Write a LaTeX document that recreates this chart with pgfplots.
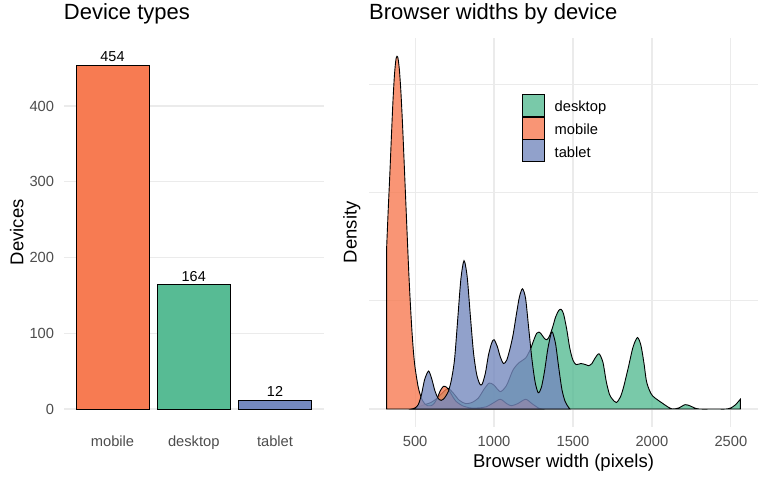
\documentclass[border=0pt]{standalone}
\usepackage{pgfplots}
\pgfplotsset{compat=1.18}
\usepackage{fontspec}
\setmainfont{Liberation Sans}
\definecolor{desk}{RGB}{87,187,148}
\definecolor{mob}{RGB}{247,123,82}
\definecolor{tab}{RGB}{117,137,190}
\definecolor{gridc}{RGB}{235,235,235}
\definecolor{tickc}{RGB}{77,77,77}
\begin{document}
\begin{tikzpicture}
\path[use as bounding box] (0,0) rectangle (768pt,480pt);
\pgfplotsset{
 myax/.style={
  scale only axis, anchor=south west,
  axis line style={draw=none},
  major tick length=0pt,
  tick label style={font=\fontsize{14.7}{17}\selectfont, text=tickc},
  /pgf/number format/assume math mode=true,
  /pgf/number format/1000 sep={},
  grid style={gridc, line width=1.2pt},
  title style={at={(axis description cs:0,1)}, anchor=base west, yshift=12pt, inner sep=0pt, font=\fontsize{22}{26}\selectfont},
  label style={font=\fontsize{18.5}{22}\selectfont},
 },
 bars/.style={ybar, bar width=0.9, bar shift=0pt, draw=black, line width=0.8pt,
  nodes near coords,
  every node near coord/.append style={anchor=base, yshift=3.5pt, inner sep=0pt, font=\fontsize{14.4}{17}\selectfont, text=black}},
 dens/.style={draw=black, line width=0.9pt, fill opacity=0.8, smooth, tension=0.45},
}
% ---------------- left panel ----------------
\begin{axis}[myax, at={(63.75pt,53.5pt)}, width=260pt, height=388.5pt,
 xmin=0.4, xmax=3.6, ymin=-23.1, ymax=489.8,
 xtick={1,2,3}, xticklabels={mobile,desktop,tablet},
 ytick={0,100,200,300,400},
 ymajorgrids,
 xticklabel style={anchor=base, yshift=-19.5pt, inner sep=0pt},
 yticklabel style={anchor=east, xshift=-9.5pt, inner sep=0pt},
 title={Device types},
 ylabel={Devices},
 ylabel style={at={([xshift=-40.45pt]axis description cs:0,0.5)}, anchor=base},
]
\addplot[bars, fill=mob] coordinates {(1,454)};
\addplot[bars, fill=desk] coordinates {(2,164)};
\addplot[bars, fill=tab] coordinates {(3,12)};
\end{axis}
% ---------------- right panel ----------------
\begin{axis}[myax, at={(369pt,53.5pt)}, width=389pt, height=388.5pt,
 xmin=208, xmax=2672, ymin=-0.1616, ymax=3.4257,
 xtick={500,1000,1500,2000,2500}, ytick={0,1,2,3}, yticklabels={},
 xmajorgrids, ymajorgrids,
 xticklabel style={anchor=base, yshift=-20pt, inner sep=0pt},
 title={Browser widths by device},
 xlabel={Browser width (pixels)},
 xlabel style={at={([yshift=-41pt]axis description cs:0.5,0)}, anchor=base},
 ylabel={Density},
 ylabel style={at={([xshift=-12.3pt]axis description cs:0,0.5)}, anchor=base},
 legend style={at={(rel axis cs:0.3933,0.857)}, anchor=north west, draw=none, fill=none,
   inner sep=0pt, row sep=0pt, column sep=9.7pt,
   font=\fontsize{14.7}{17}\selectfont, nodes={inner sep=0pt}},
 legend cell align=left,
 legend image code/.code={\draw[#1, draw=black, line width=0.8pt, sharp corners] (0pt,-9pt) rectangle (22pt,13pt);},
]
\addplot[dens, fill=desk] coordinates {
(480,0.00) (520,0.02) (560,0.04) (600,0.06) (640,0.10) (680,0.16) (710,0.19) (740,0.15)
(780,0.08) (820,0.05) (860,0.06) (900,0.10) (940,0.19) (970,0.24) (1000,0.22) (1040,0.16)
(1080,0.22) (1120,0.36) (1160,0.43) (1200,0.47) (1230,0.55) (1250,0.63) (1270,0.70) (1285,0.71)
(1300,0.69) (1320,0.65) (1335,0.64) (1350,0.67) (1370,0.75) (1390,0.85) (1410,0.91) (1425,0.92)
(1440,0.88) (1460,0.74) (1480,0.56) (1500,0.45) (1520,0.41) (1550,0.42) (1580,0.41) (1600,0.40)
(1620,0.42) (1640,0.47) (1665,0.51) (1690,0.43) (1710,0.26) (1730,0.14) (1750,0.09) (1775,0.06)
(1800,0.11) (1820,0.20) (1850,0.38) (1880,0.57) (1908,0.66) (1930,0.59) (1950,0.42) (1965,0.26)
(1985,0.17) (2005,0.12) (2040,0.08) (2070,0.05) (2100,0.02) (2130,0.00) (2170,0.01) (2210,0.04)
(2240,0.03) (2270,0.01) (2300,0.00) (2400,0.00) (2470,0.00) (2500,0.01) (2530,0.04) (2560,0.09)
} \closedcycle;
\addlegendentry{desktop}
\addplot[dens, fill=mob] coordinates {
(320,1.50) (330,1.85) (340,2.17) (350,2.52) (360,2.85) (370,3.10) (380,3.24) (390,3.25)
(400,3.14) (410,2.93) (420,2.64) (430,2.30) (440,1.95) (450,1.60) (460,1.26) (470,0.97)
(480,0.72) (490,0.52) (500,0.38) (520,0.20) (540,0.10) (560,0.05) (580,0.03) (600,0.03)
(620,0.05) (640,0.10) (660,0.17) (680,0.21) (700,0.20) (720,0.16) (740,0.11) (760,0.07)
(800,0.03) (850,0.01) (900,0.01) (950,0.02) (1000,0.06) (1040,0.09) (1080,0.05) (1110,0.03)
(1150,0.05) (1200,0.09) (1240,0.05) (1280,0.01) (1300,0.00)
} \closedcycle;
\addlegendentry{mobile}
\addplot[dens, fill=tab] coordinates {
(480,0.00) (500,0.01) (520,0.04) (540,0.13) (560,0.27) (585,0.35) (605,0.28) (625,0.17)
(645,0.10) (665,0.08) (685,0.10) (710,0.16) (730,0.27) (750,0.46) (770,0.83) (790,1.20)
(810,1.37) (830,1.22) (850,0.86) (870,0.52) (890,0.32) (910,0.23) (925,0.23) (945,0.33)
(965,0.50) (985,0.61) (1000,0.64) (1020,0.58) (1040,0.48) (1060,0.42) (1080,0.45) (1100,0.55)
(1120,0.68) (1140,0.86) (1160,1.03) (1180,1.11) (1200,1.02) (1220,0.74) (1240,0.46) (1260,0.25)
(1280,0.15) (1300,0.20) (1320,0.35) (1340,0.55) (1360,0.69) (1370,0.71) (1390,0.60) (1410,0.38)
(1430,0.18) (1450,0.07) (1470,0.02) (1480,0.00)
} \closedcycle;
\addlegendentry{tablet}
\end{axis}
\end{tikzpicture}
\end{document}
